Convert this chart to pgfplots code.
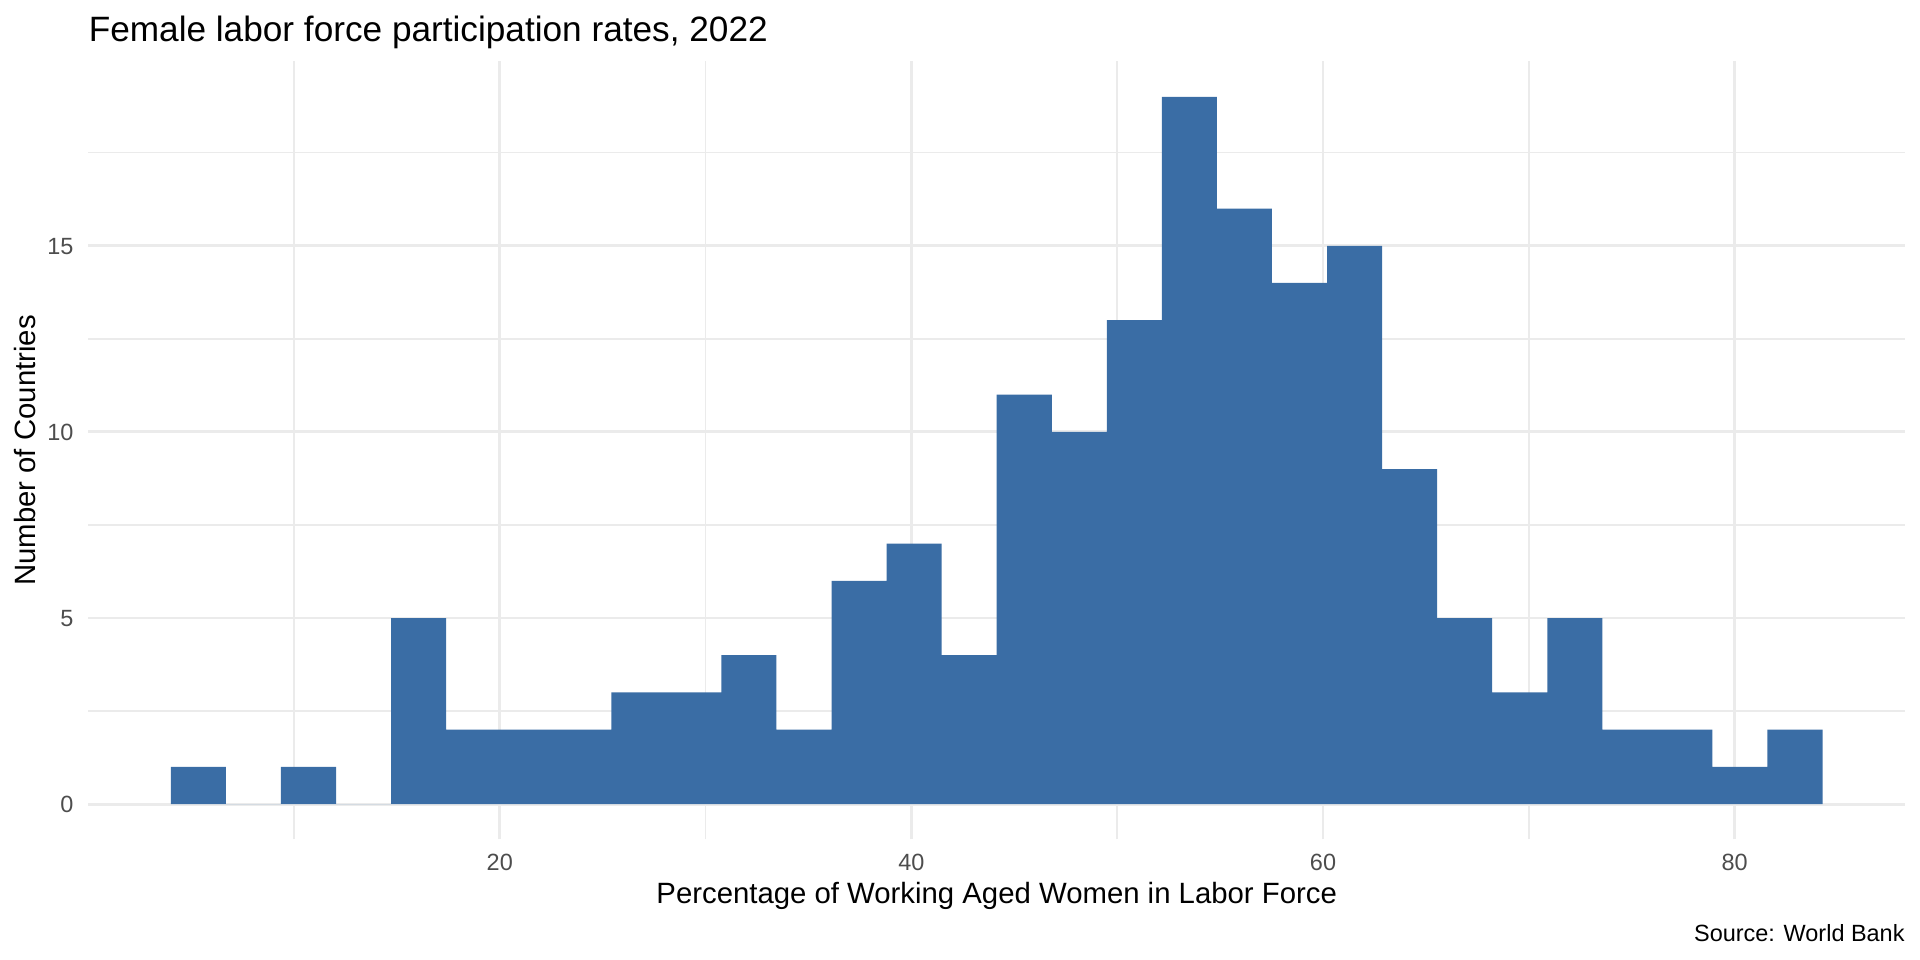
\documentclass[border=0pt]{standalone}
\usepackage{fontspec}
\setmainfont{Liberation Sans}
\usepackage{pgfplots}
\pgfplotsset{compat=1.18}
\definecolor{barblue}{HTML}{3A6DA5}
\definecolor{gridc}{HTML}{EBEBEB}
\definecolor{tickc}{HTML}{4D4D4D}
\begin{document}
\begin{tikzpicture}
\useasboundingbox (0,0) rectangle (720bp,360bp);
\begin{axis}[
  at={(33.11bp,45.19bp)}, anchor=south west,
  scale only axis, width=681.3bp, height=291.75bp,
  xmin=0.0075, xmax=88.2825, ymin=-0.95, ymax=19.95,
  xtick={20,40,60,80}, minor xtick={10,30,50,70},
  ytick={0,5,10,15}, minor ytick={2.5,7.5,12.5,17.5},
  grid=both,
  major grid style={gridc, line width=1.07bp},
  minor grid style={gridc, line width=0.55bp},
  axis line style={draw=none},
  major tick length=0pt, minor tick length=0pt,
  /pgf/number format/assume math mode=true,
  tick label style={font=\fontsize{8.8bp}{10bp}\selectfont, text=tickc, inner sep=0pt},
  xticklabel style={anchor=base, yshift=-11.81bp},
  yticklabel style={anchor=base east, xshift=-5.36bp, yshift=-3.3bp},
]
\addplot[const plot, fill=barblue, draw=none] coordinates {
(4.02,1) (6.695,0) (9.37,1) (12.045,0) (14.72,5) (17.395,2)
(20.07,2) (22.745,2) (25.42,3) (28.095,3) (30.77,4) (33.445,2)
(36.12,6) (38.795,7) (41.47,4) (44.145,11) (46.82,10) (49.495,13)
(52.17,19) (54.845,16) (57.52,14) (60.195,15) (62.87,9) (65.545,5)
(68.22,3) (70.895,5) (73.57,2) (76.245,2) (78.92,1) (81.595,2)
(84.27,2)
} \closedcycle;
\end{axis}
\node[anchor=base west, font=\fontsize{13.2bp}{16bp}\selectfont, inner sep=0pt] at (33.11bp,344.36bp) {Female labor force participation rates, 2022};
\node[anchor=base, font=\fontsize{11bp}{13bp}\selectfont, inner sep=0pt] at (373.76bp,21.26bp) {Percentage of Working Aged Women in Labor Force};
\node[anchor=base, rotate=90, font=\fontsize{11bp}{13bp}\selectfont, inner sep=0pt] at (13.125bp,191.06bp) {Number of Countries};
\node[anchor=base east, font=\fontsize{8.8bp}{10bp}\selectfont, inner sep=0pt] at (714.4bp,7.125bp) {Source: World Bank};
\end{tikzpicture}
\end{document}
